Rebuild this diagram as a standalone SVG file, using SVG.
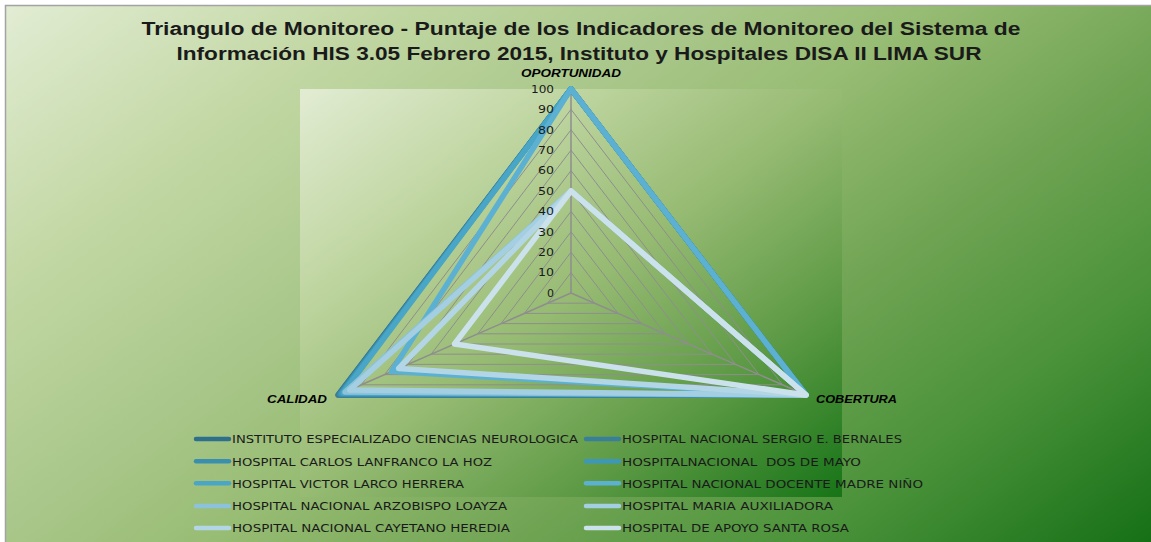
<svg xmlns="http://www.w3.org/2000/svg" width="1151" height="542" viewBox="0 0 1151 542">
<defs>
<linearGradient id="bgOuter" gradientUnits="userSpaceOnUse" x1="0" y1="0" x2="674.5" y2="899.4">
<stop offset="0" stop-color="#e3edd5"/>
<stop offset="0.2" stop-color="#c3d8a5"/>
<stop offset="0.38" stop-color="#a9c78a"/>
<stop offset="0.5" stop-color="#97bc73"/>
<stop offset="0.65" stop-color="#72a555"/>
<stop offset="0.82" stop-color="#4a923a"/>
<stop offset="1" stop-color="#167016"/>
</linearGradient>
<linearGradient id="bgPlot" x1="0" y1="0" x2="1" y2="1">
<stop offset="0" stop-color="#e2ecd3"/>
<stop offset="0.25" stop-color="#c0d6a2"/>
<stop offset="0.5" stop-color="#97bb73"/>
<stop offset="0.75" stop-color="#5d9a45"/>
<stop offset="1" stop-color="#177417"/>
</linearGradient>
<style>
.title{font-family:"Liberation Sans",Arial,sans-serif;font-weight:bold;font-size:17.5px;fill:#1a1a1a}
.axis{font-family:"Liberation Sans",Arial,sans-serif;font-weight:bold;font-style:italic;font-size:10px;fill:#000}
.tick{font-family:"DejaVu Sans",Verdana,sans-serif;font-size:10.5px;fill:#1a1a1a;text-anchor:end}
.leg{font-family:"DejaVu Sans",Verdana,sans-serif;font-size:11.3px;fill:#1a1a1a;white-space:pre}
.grid{fill:none;stroke:#8e8e8e;stroke-width:1}
.spoke{stroke:#8e8e8e;stroke-width:1.5}
.ser{fill:none;stroke-width:5.5;stroke-linejoin:round}
.key{stroke-width:4.5;stroke-linecap:round}
</style>
</defs>
<rect x="5.5" y="5.5" width="1160" height="550" fill="url(#bgOuter)" stroke="#a3a3a3" stroke-width="1.5"/>
<rect x="300" y="89" width="542" height="408" fill="url(#bgPlot)"/>

<g id="title">
<text class="title" x="141.5" y="35" textLength="879" lengthAdjust="spacingAndGlyphs">Triangulo de Monitoreo - Puntaje de los Indicadores de Monitoreo del Sistema de</text>
<text class="title" x="176.5" y="59.5" textLength="805" lengthAdjust="spacingAndGlyphs">Información HIS 3.05 Febrero 2015, Instituto y Hospitales DISA II LIMA SUR</text>
</g>

<g id="grid">
<polygon class="grid" points="571,272.6 594.5,303.2 547.7,303.2"/>
<polygon class="grid" points="571,252.2 618,313.4 524.4,313.4"/>
<polygon class="grid" points="571,231.8 641.5,323.6 501.1,323.6"/>
<polygon class="grid" points="571,211.4 665,333.8 477.8,333.8"/>
<polygon class="grid" points="571,191 688.5,344 454.5,344"/>
<polygon class="grid" points="571,170.6 712,354.2 431.2,354.2"/>
<polygon class="grid" points="571,150.2 735.5,364.4 407.9,364.4"/>
<polygon class="grid" points="571,129.8 759,374.6 384.6,374.6"/>
<polygon class="grid" points="571,109.4 782.5,384.8 361.3,384.8"/>
<polygon class="grid" points="571,89 806,395 338,395"/>
<line class="spoke" x1="571" y1="293" x2="571" y2="89"/>
<line class="spoke" x1="571" y1="293" x2="806" y2="395"/>
<line class="spoke" x1="571" y1="293" x2="338" y2="395"/>
</g>

<g id="axis-labels">
<text class="axis" x="521" y="77" textLength="100" lengthAdjust="spacingAndGlyphs">OPORTUNIDAD</text>
<text class="axis" x="267" y="402.5" textLength="60" lengthAdjust="spacingAndGlyphs">CALIDAD</text>
<text class="axis" x="816" y="402.5" textLength="81" lengthAdjust="spacingAndGlyphs">COBERTURA</text>
</g>

<g id="series">
<polygon id="s1" class="ser" stroke="#2e6f8c" points="571,89 806,395 338,395"/>
<polygon id="s2" class="ser" stroke="#3a7f9a" points="571,89 806,395 338.5,395"/>
<polygon id="s3" class="ser" stroke="#3b8fae" points="571,89 806,395 340.3,394"/>
<polygon id="s4" class="ser" stroke="#3d97ba" points="571,89 806,395 341.5,393.5"/>
<polygon id="s5" class="ser" stroke="#49a6c6" points="571,89 806,395 343,393"/>
<polygon id="s6" class="ser" stroke="#5cb1d2" points="571,89 806,395 391.6,371.5"/>
<polygon id="s7" class="ser" stroke="#8cc2da" points="571,191 806,395 345,392"/>
<polygon id="s8" class="ser" stroke="#a4cee2" points="571,191 806,395 349.6,390"/>
<polygon id="s9" class="ser" stroke="#b3d6e6" points="571,191 806,395 398.6,368.5"/>
<polygon id="s10" class="ser" stroke="#cbe2ec" points="571,191 806,395 454.5,344"/>
</g>

<g id="ticks">
<text class="tick" x="554" y="92.8" textLength="23" lengthAdjust="spacingAndGlyphs">100</text>
<text class="tick" x="554" y="113.2" textLength="16" lengthAdjust="spacingAndGlyphs">90</text>
<text class="tick" x="554" y="133.6" textLength="16" lengthAdjust="spacingAndGlyphs">80</text>
<text class="tick" x="554" y="154" textLength="16" lengthAdjust="spacingAndGlyphs">70</text>
<text class="tick" x="554" y="174.4" textLength="16" lengthAdjust="spacingAndGlyphs">60</text>
<text class="tick" x="554" y="194.8" textLength="16" lengthAdjust="spacingAndGlyphs">50</text>
<text class="tick" x="554" y="215.2" textLength="16" lengthAdjust="spacingAndGlyphs">40</text>
<text class="tick" x="554" y="235.6" textLength="16" lengthAdjust="spacingAndGlyphs">30</text>
<text class="tick" x="554" y="256" textLength="16" lengthAdjust="spacingAndGlyphs">20</text>
<text class="tick" x="554" y="276.4" textLength="16" lengthAdjust="spacingAndGlyphs">10</text>
<text class="tick" x="554" y="296.8" textLength="7" lengthAdjust="spacingAndGlyphs">0</text>
</g>

<g id="legend">
<g id="leg1"><line class="key" stroke="#2e6f8c" x1="196" y1="439" x2="229" y2="439"/><text class="leg" x="232" y="443.3" textLength="346" lengthAdjust="spacingAndGlyphs">INSTITUTO ESPECIALIZADO CIENCIAS NEUROLOGICA</text></g>
<g id="leg2"><line class="key" stroke="#3a7f9a" x1="586" y1="439" x2="619" y2="439"/><text class="leg" x="622" y="443.3" textLength="280" lengthAdjust="spacingAndGlyphs">HOSPITAL NACIONAL SERGIO E. BERNALES</text></g>
<g id="leg3"><line class="key" stroke="#3b8fae" x1="196" y1="461.3" x2="229" y2="461.3"/><text class="leg" x="232" y="465.6" textLength="260" lengthAdjust="spacingAndGlyphs">HOSPITAL CARLOS LANFRANCO LA HOZ</text></g>
<g id="leg4"><line class="key" stroke="#3d97ba" x1="586" y1="461.3" x2="619" y2="461.3"/><text class="leg" x="622" y="465.6" textLength="239" lengthAdjust="spacingAndGlyphs">HOSPITALNACIONAL  DOS DE MAYO</text></g>
<g id="leg5"><line class="key" stroke="#49a6c6" x1="196" y1="483.3" x2="229" y2="483.3"/><text class="leg" x="232" y="487.6" textLength="232" lengthAdjust="spacingAndGlyphs">HOSPITAL VICTOR LARCO HERRERA</text></g>
<g id="leg6"><line class="key" stroke="#5cb1d2" x1="586" y1="483.3" x2="619" y2="483.3"/><text class="leg" x="622" y="487.6" textLength="301" lengthAdjust="spacingAndGlyphs">HOSPITAL NACIONAL DOCENTE MADRE NIÑO</text></g>
<g id="leg7"><line class="key" stroke="#8cc2da" x1="196" y1="506" x2="229" y2="506"/><text class="leg" x="232" y="510.3" textLength="275" lengthAdjust="spacingAndGlyphs">HOSPITAL NACIONAL ARZOBISPO LOAYZA</text></g>
<g id="leg8"><line class="key" stroke="#a4cee2" x1="586" y1="506" x2="619" y2="506"/><text class="leg" x="622" y="510.3" textLength="211" lengthAdjust="spacingAndGlyphs">HOSPITAL MARIA AUXILIADORA</text></g>
<g id="leg9"><line class="key" stroke="#b3d6e6" x1="196" y1="528" x2="229" y2="528"/><text class="leg" x="232" y="532.3" textLength="278" lengthAdjust="spacingAndGlyphs">HOSPITAL NACIONAL CAYETANO HEREDIA</text></g>
<g id="leg10"><line class="key" stroke="#cbe2ec" x1="586" y1="528" x2="619" y2="528"/><text class="leg" x="622" y="532.3" textLength="227" lengthAdjust="spacingAndGlyphs">HOSPITAL DE APOYO SANTA ROSA</text></g>
</g>
</svg>
